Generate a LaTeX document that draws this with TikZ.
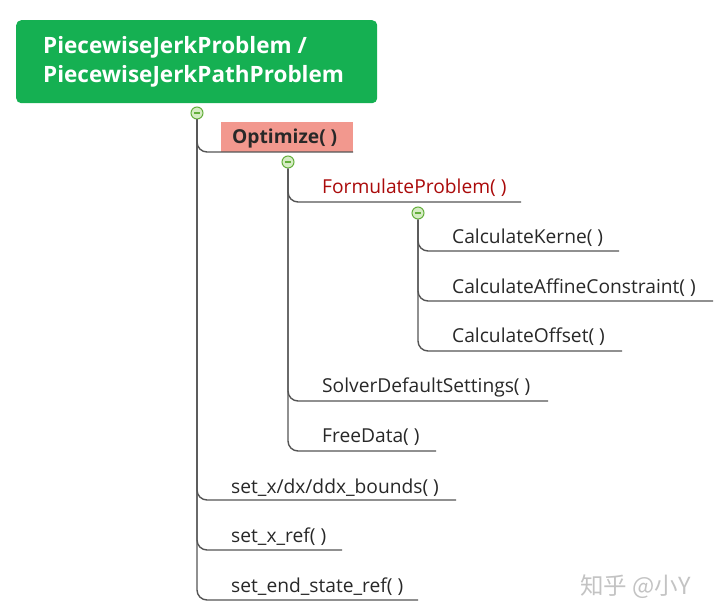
\documentclass[tikz,border=0pt]{standalone}
\usepackage{fontspec}
\setmainfont{Open Sans}
\newfontfamily\cjkfont{Noto Sans CJK SC}
\definecolor{rootgreen}{RGB}{21,176,82}
\definecolor{optpink}{RGB}{242,152,142}
\definecolor{linegray}{RGB}{85,85,85}
\definecolor{txtdark}{RGB}{40,40,40}
\definecolor{fred}{RGB}{170,10,10}
\definecolor{circfill}{RGB}{214,236,196}
\definecolor{circline}{RGB}{100,175,60}
\definecolor{wmgray}{RGB}{195,195,195}
\begin{document}
\begin{tikzpicture}[x=1pt,y=-1pt,
  leaf/.style={anchor=base west,inner sep=0pt,text=txtdark,font=\fontsize{19.2}{22}\selectfont},
  conn/.style={draw=linegray,line width=1.4pt,rounded corners=10pt},
  fold/.style={circle,draw=circline,fill=circfill,line width=1pt,minimum size=12pt,inner sep=0pt,
    path picture={\draw[circline,line width=1.2pt] ([xshift=-3.2pt]path picture bounding box.center) -- ([xshift=3.2pt]path picture bounding box.center);}}]
\useasboundingbox (0,0) rectangle (725,615);
% root
\node[fill=rootgreen,rounded corners=5pt,minimum width=361pt,minimum height=83pt,anchor=north west,inner sep=0pt] (root) at (16,20) {};
\node[anchor=west,text=white,font=\bfseries\fontsize{22.5}{29}\selectfont,align=left,inner sep=0pt] (roottxt) at (43,62) {PiecewiseJerkProblem /\\PiecewiseJerkPathProblem};
\node[fold] (c0) at (197,113) {};
% Optimize
\node[fill=optpink,minimum width=132pt,minimum height=30pt,anchor=north west,inner sep=0pt] (optbox) at (221,122) {};
\node[leaf,font=\bfseries\fontsize{19.2}{20}\selectfont,text=txtdark] (opt) at (232,143) {Optimize( )};
\coordinate (optE) at (353,152);
\node[fold] (c1) at (288,162) {};
% second level
\node[leaf,text=fred] (form) at (322,193) {FormulateProblem( )};
\coordinate (formE) at (521,202);
\node[fold] (c2) at (418,213) {};
\node[leaf] (kern) at (452,243) {CalculateKerne( )};
\coordinate (kernE) at (619,251);
\node[leaf] (aff) at (452,293) {CalculateAffineConstraint( )};
\coordinate (affE) at (713,301);
\node[leaf] (off) at (452,342) {CalculateOffset( )};
\coordinate (offE) at (622,351);
\node[leaf] (solv) at (322,392) {SolverDefaultSettings( )};
\coordinate (solvE) at (548,401);
\node[leaf] (free) at (322,442) {FreeData( )};
\coordinate (freeE) at (436,451);
% first level rest
\node[leaf] (bnd) at (231,493) {set\_x/dx/ddx\_bounds( )};
\coordinate (bndE) at (456,500);
\node[leaf] (xref) at (231,542) {set\_x\_ref( )};
\coordinate (xrefE) at (342,550);
\node[leaf] (eref) at (231,592) {set\_end\_state\_ref( )};
\coordinate (erefE) at (418,600);
% connectors
\foreach \e in {optE,bndE,xrefE,erefE} \draw[conn] (c0.south) |- (\e);
\foreach \e in {formE,solvE,freeE} \draw[conn] (c1.south) |- (\e);
\foreach \e in {kernE,affE,offE} \draw[conn] (c2.south) |- (\e);
% watermark
\node[anchor=base west,inner sep=0pt,text=wmgray,font=\cjkfont\fontsize{23.5}{26}\selectfont] (wm) at (580,594) {知乎 @小Y};
\end{tikzpicture}
\end{document}
